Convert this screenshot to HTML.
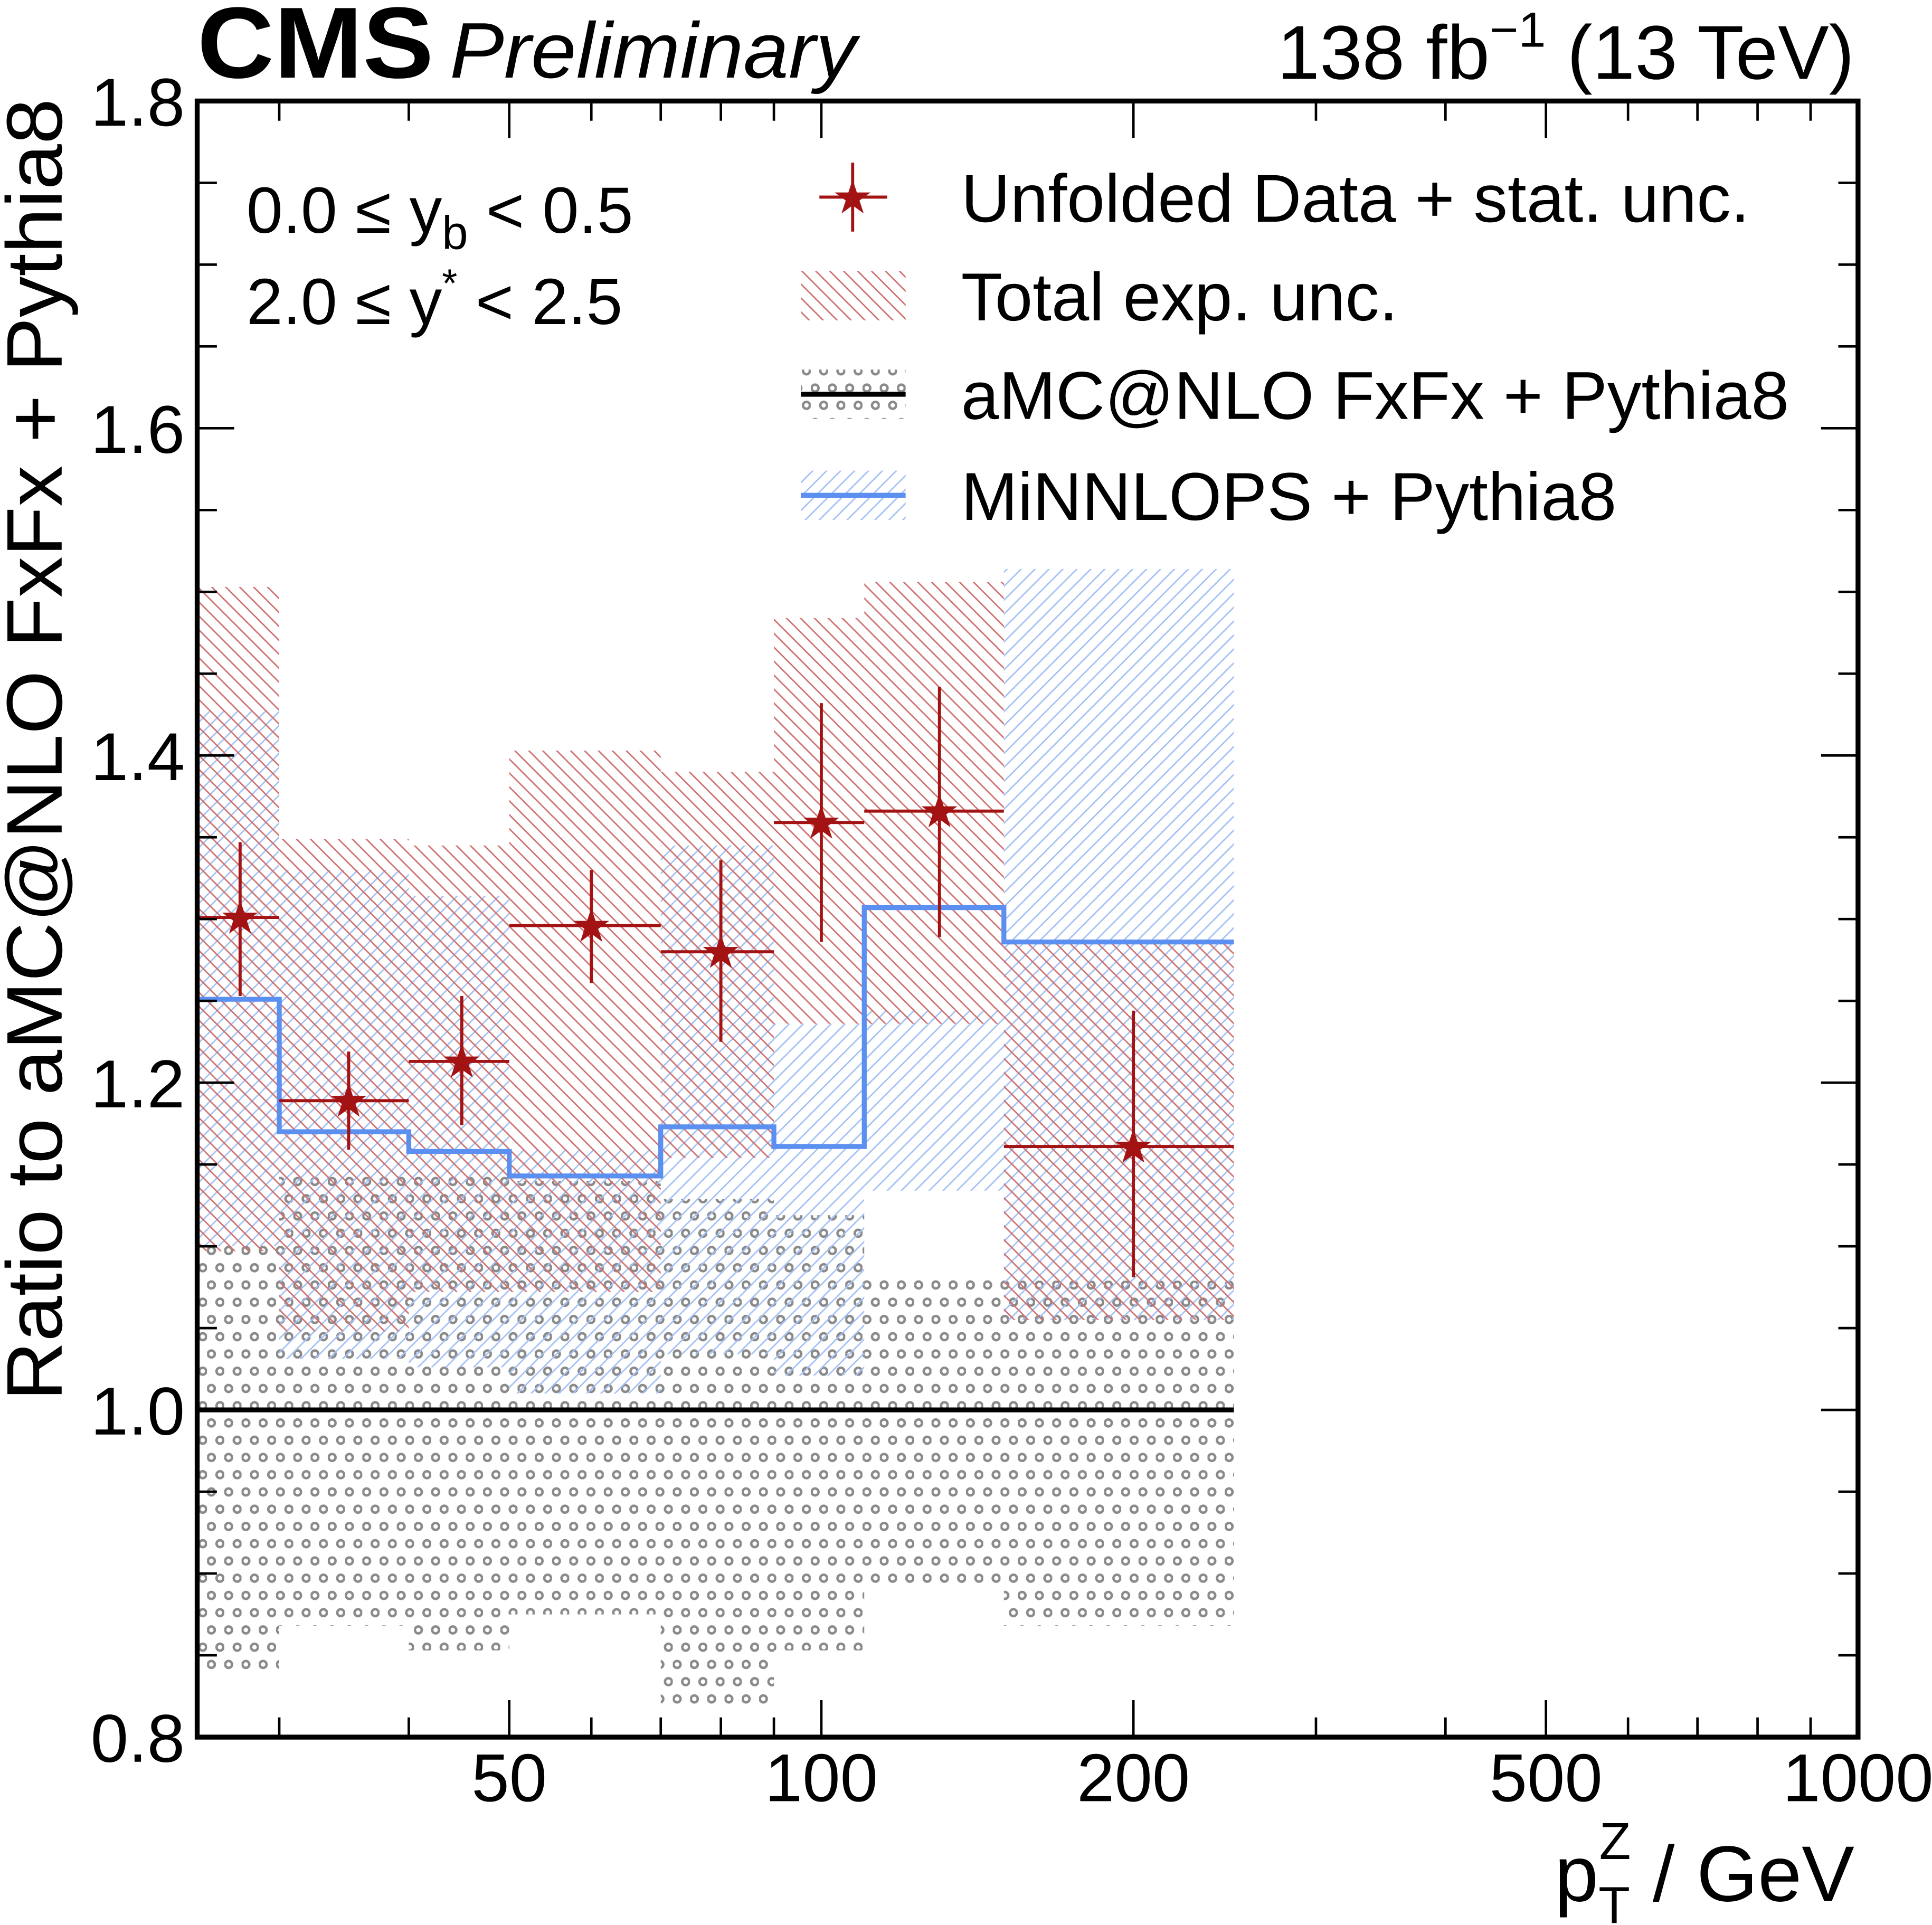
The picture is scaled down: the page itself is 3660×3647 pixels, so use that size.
<!DOCTYPE html>
<html><head><meta charset="utf-8"><style>
html,body{margin:0;padding:0;background:#fff;}
svg{display:block;font-family:"Liberation Sans",sans-serif;}
</style></head><body>
<svg id="chart" width="3660" height="3647" viewBox="0 0 1568 1562.5" xmlns="http://www.w3.org/2000/svg">
<defs>
<pattern id="redHatch" patternUnits="userSpaceOnUse" width="8" height="8" patternTransform="rotate(-45)">
<line x1="0" y1="0" x2="0" y2="8" stroke="#cf7272" stroke-width="2.4"/></pattern>
<pattern id="blueHatch" patternUnits="userSpaceOnUse" width="8" height="8" patternTransform="rotate(45)">
<line x1="0" y1="0" x2="0" y2="8" stroke="#a4c2f4" stroke-width="2.4"/></pattern>
<pattern id="grayDots" patternUnits="userSpaceOnUse" width="14" height="28">
<circle cx="3.5" cy="7" r="2.8" fill="none" stroke="#8a8a8a" stroke-width="2"/>
<circle cx="10.5" cy="21" r="2.8" fill="none" stroke="#8a8a8a" stroke-width="2"/></pattern>
</defs>
<g id="bands"></g>
<g id="lines"></g>
<g id="points"></g>
<g id="axes"></g>
<text x="160" y="63" font-size="82" font-weight="bold" textLength="192" lengthAdjust="spacingAndGlyphs">CMS</text>
<text x="365" y="63" font-size="64" font-style="italic" textLength="330" lengthAdjust="spacingAndGlyphs">Preliminary</text>
<text x="1505" y="64" font-size="62" text-anchor="end">138 fb<tspan dy="-26" font-size="40">−1</tspan><tspan dy="26"> (13 TeV)</tspan></text>
<text transform="translate(50,1137) rotate(-90)" font-size="64" textLength="1057" lengthAdjust="spacingAndGlyphs">Ratio to aMC@NLO FxFx + Pythia8</text>
<text x="1505" y="1543" font-size="64" text-anchor="end">p<tspan dy="18" font-size="42">T</tspan><tspan dx="-25" dy="-52" font-size="42">Z</tspan><tspan dy="34"> / GeV</tspan></text>
<text x="200" y="189" font-size="53">0.0 ≤ y<tspan dy="13" font-size="38">b</tspan><tspan dy="-13"> &lt; 0.5</tspan></text>
<text x="200" y="263" font-size="53">2.0 ≤ y<tspan dy="-22" font-size="32">*</tspan><tspan dy="22"> &lt; 2.5</tspan></text>
<g id="legend">
<g>
<line x1="665" y1="160" x2="720" y2="160" stroke="#a31313" stroke-width="2.5"/><line x1="692" y1="132" x2="692" y2="188" stroke="#a31313" stroke-width="2.5"/>
<text x="692" y="173" font-size="38" fill="#a31313" text-anchor="middle">★</text>
<text x="780" y="180" font-size="55" textLength="640" lengthAdjust="spacingAndGlyphs">Unfolded Data + stat. unc.</text></g>
<g>
<rect x="650" y="220" width="85" height="40" fill="url(#redHatch)"/>
<text x="780" y="260" font-size="55">Total exp. unc.</text></g>
<g>
<rect x="650" y="300" width="85" height="40" fill="url(#grayDots)"/><line x1="650" y1="320" x2="735" y2="320" stroke="#000" stroke-width="4"/>
<text x="780" y="340" font-size="55" textLength="672" lengthAdjust="spacingAndGlyphs">aMC@NLO FxFx + Pythia8</text></g>
<g>
<rect x="650" y="382" width="85" height="40" fill="url(#blueHatch)"/><line x1="650" y1="402" x2="735" y2="402" stroke="#5b8ff0" stroke-width="4"/>
<text x="780" y="422" font-size="55" textLength="532" lengthAdjust="spacingAndGlyphs">MiNNLOPS + Pythia8</text></g>
</g>
</svg>
<script>
const binEdges = [25,30,40,50,70,90,110,150,250];
const binCenters = [27.5,35,45,60,80,100,130,200];
const dataVals = [1.301,1.189,1.213,1.296,1.280,1.359,1.366,1.161];
const dataErrUp = [1.347,1.219,1.253,1.330,1.336,1.432,1.442,1.244];
const dataErrDn = [1.253,1.159,1.174,1.261,1.225,1.286,1.289,1.081];
const totUp = [1.503,1.349,1.345,1.403,1.390,1.484,1.506,1.286];
const totDn = [1.097,1.048,1.072,1.072,1.154,1.236,1.236,1.055];
const minnlo = [1.251,1.170,1.158,1.143,1.173,1.161,1.307,1.286];
const minnloUp = [1.427,1.330,1.314,1.159,1.345,1.236,1.244,1.514];
const minnloDn = [1.100,1.031,1.026,1.010,1.034,1.021,1.134,1.055];
const amcUp = [1.101,1.143,1.143,1.140,1.129,1.119,1.080,1.079];
const amcDn = [0.838,0.868,0.853,0.875,0.819,0.853,0.893,0.868];
const yTicks = [0.8,1.0,1.2,1.4,1.6,1.8];
const yTickLabels = ["0.8","1.0","1.2","1.4","1.6","1.8"];
const xMajor = [50,100,200,500,1000];
const xMajorLabels = ["50","100","200","500","1000"];
const xMinor = [30,40,60,70,80,90,300,400,600,700,800,900];

const L=160,R=1508,T=82,B=1410;
const X=v=>L+(Math.log10(v)-Math.log10(25))/(3-Math.log10(25))*(R-L);
const Y=v=>B-(v-0.8)/1.0*(B-T);
const NS="http://www.w3.org/2000/svg";
function mk(tag,attrs,parent){const e=document.createElementNS(NS,tag);for(const k in attrs)e.setAttribute(k,attrs[k]);parent.appendChild(e);return e;}
const bands=document.getElementById('bands'),lines=document.getElementById('lines'),pts=document.getElementById('points'),axes=document.getElementById('axes');
for(let i=0;i<8;i++){
  const x0=X(binEdges[i]),x1=X(binEdges[i+1]);
  let r=mk('rect',{x:x0,y:Y(amcUp[i]),width:x1-x0,height:Y(amcDn[i])-Y(amcUp[i]),fill:'url(#grayDots)'},bands);
  
  
  r=mk('rect',{x:x0,y:Y(minnloUp[i]),width:x1-x0,height:Y(minnloDn[i])-Y(minnloUp[i]),fill:'url(#blueHatch)'},bands);
  
  
  r=mk('rect',{x:x0,y:Y(totUp[i]),width:x1-x0,height:Y(totDn[i])-Y(totUp[i]),fill:'url(#redHatch)'},bands);
  
  
}
let ref=mk('line',{x1:X(25),x2:X(250),y1:Y(1),y2:Y(1),stroke:'#000','stroke-width':4},lines);


let d='';
for(let i=0;i<8;i++){d+=(i===0?'M':'L')+X(binEdges[i])+','+Y(minnlo[i])+'L'+X(binEdges[i+1])+','+Y(minnlo[i]);}
let ml=mk('path',{d:d,fill:'none',stroke:'#5b8ff0','stroke-width':4},lines);


for(let i=0;i<8;i++){
  const g=mk('g',{},pts);
  
  
  const cx=X(binCenters[i]),cy=Y(dataVals[i]);
  mk('line',{x1:X(binEdges[i]),x2:X(binEdges[i+1]),y1:cy,y2:cy,stroke:'#a31313','stroke-width':2.5},g);
  mk('line',{x1:cx,x2:cx,y1:Y(dataErrUp[i]),y2:Y(dataErrDn[i]),stroke:'#a31313','stroke-width':2.5},g);
  const t=mk('text',{x:cx,y:cy+13,'font-size':38,fill:'#a31313','text-anchor':'middle'},g);t.textContent='★';
}
mk('rect',{x:L,y:T,width:R-L,height:B-T,fill:'none',stroke:'#000','stroke-width':4},axes);
for(let v=0.8;v<=1.8001;v+=0.05){
  const major=Math.abs(v*5-Math.round(v*5))<1e-6,len=major?30:16,y=Y(v);
  mk('line',{x1:L,x2:L+len,y1:y,y2:y,stroke:'#000','stroke-width':2},axes);
  mk('line',{x1:R,x2:R-len,y1:y,y2:y,stroke:'#000','stroke-width':2},axes);
}
yTicks.forEach((v,i)=>{const t=mk('text',{x:150,y:Y(v)+20,'font-size':55,'text-anchor':'end'},axes);t.textContent=yTickLabels[i];

});
xMajor.forEach((v,i)=>{const x=X(v);
  mk('line',{x1:x,x2:x,y1:B,y2:B-30,stroke:'#000','stroke-width':2},axes);
  mk('line',{x1:x,x2:x,y1:T,y2:T+30,stroke:'#000','stroke-width':2},axes);
  const t=mk('text',{x:x,y:1462,'font-size':55,'text-anchor':'middle'},axes);t.textContent=xMajorLabels[i];
  
  });
xMinor.forEach(v=>{const x=X(v);
  mk('line',{x1:x,x2:x,y1:B,y2:B-16,stroke:'#000','stroke-width':2},axes);
  mk('line',{x1:x,x2:x,y1:T,y2:T+16,stroke:'#000','stroke-width':2},axes);});
</script>
</body></html>
